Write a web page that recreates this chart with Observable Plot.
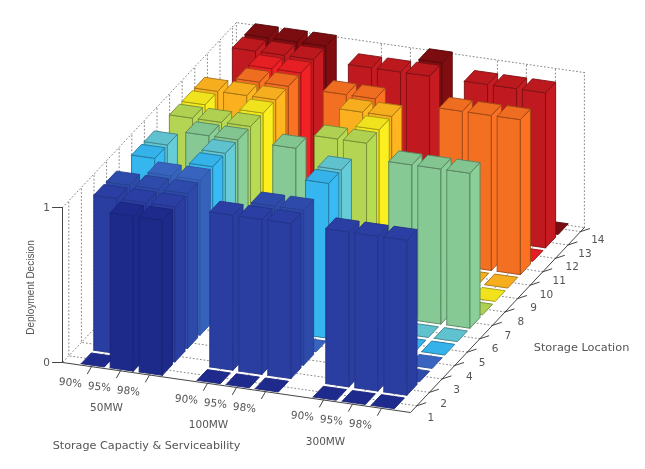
<!DOCTYPE html>
<html>
<head>
<meta charset="utf-8">
<script src="https://cdn.jsdelivr.net/npm/d3@7"></script>
<script src="https://cdn.jsdelivr.net/npm/@observablehq/plot@0.6"></script>
<style>
html,body{margin:0;padding:0;background:#fff;}
svg{display:block;filter:blur(0.5px);}
</style>
</head>
<body>
<div id="chart"></div>
<script>
const serviceability = ["90%","95%","98%","90%","95%","98%","90%","95%","98%"];
const columnPositions = [1,2,3,5,6,7,9,10,11];
const capacities = ["50MW","100MW","300MW"];
const capacityColumns = [2,6,10];
const locations = [1,2,3,4,5,6,7,8,9,10,11,12,13,14];
const locationColors = ["#1e2a8a","#2a3da0","#2d4aa8","#3762bc","#36b6ee","#62c6d2","#86c994","#b3d553","#f5e81f","#fbb11f","#f36f21","#ea2024","#c01a20","#7e0c10"];
const location1  = [0,1,1, 0,0,0, 0,0,0];
const location2  = [1,1,1, 1,1,1, 1,1,1];
const location3  = [1,1,1, 0,1,1, 0,0,0];
const location4  = [0,1,1, 0,0,0, 0,0,0];
const location5  = [1,0,1, 0,0,1, 0,0,0];
const location6  = [1,0,1, 0,0,1, 0,0,0];
const location7  = [0,1,1, 1,0,0, 1,1,1];
const location8  = [1,1,1, 0,1,1, 0,0,0];
const location9  = [1,0,1, 0,0,1, 0,0,0];
const location10 = [1,1,1, 0,1,1, 0,0,0];
const location11 = [0,1,1, 1,1,0, 1,1,1];
const location12 = [0,1,1, 0,0,0, 0,0,0];
const location13 = [1,1,1, 1,1,1, 1,1,1];
const location14 = [1,1,1, 0,0,1, 0,0,0];
const decisions = [location1,location2,location3,location4,location5,location6,location7,location8,location9,location10,location11,location12,location13,location14];

// Oblique 3-D projection (configuration axis, location axis, decision axis) to the page
const cx = d3.scaleLinear([0,12],[0,348]);
const yUnitX = 12.6, yUnitY = 13.4, zUnit = 155, ox = 62, oy = 362;
const xMax = 12, yMin = 0.5, yMax = 14.3, half = 0.4;
const px = (a,b) => ox + cx(a) + yUnitX*(b-yMin);
const py = (a,b,c) => oy + a*50/12 - yUnitY*(b-yMin) - zUnit*c;

// Painter-ordered faces, back row first
const faces = [];
let id = 0;
function face(points, fill, edge){
  const k = id++;
  for (const [a,b,c] of [...points, points[0]]) faces.push({k, X:px(a,b), Y:py(a,b,c), fill, edge});
}
for (let l = locations.length-1; l >= 0; --l) {
  const blue = l < 4;
  const edge = d3.color(locationColors[l]).darker(blue ? 0.45 : 1.2).formatHex();
  const sideCol = blue ? locationColors[l] : d3.color(locationColors[l]).brighter(0.08).formatHex();
  const topCol = d3.color(locationColors[l]).darker(blue ? -0.05 : 0.06).formatHex();
  columnPositions.forEach((x,i) => {
    const y = locations[l], v = decisions[l][i];
    const x0=x-half, x1=x+half, y0=y-half, y1=y+half;
    if (v > 0) {
      face([[x0,y0,0],[x1,y0,0],[x1,y0,v],[x0,y0,v]], locationColors[l], edge);
      face([[x1,y0,0],[x1,y1,0],[x1,y1,v],[x1,y0,v]], sideCol, edge);
    }
    face([[x0,y0,v],[x1,y0,v],[x1,y1,v],[x0,y1,v]], topCol, edge);
  });
}

// Dotted grid on floor and walls
const grid = [];
let g = 0;
function seg(pts){ const k=g++; for (const [a,b,c] of pts) grid.push({k,X:px(a,b),Y:py(a,b,c)}); }
for (const x of columnPositions) {
  seg([[x,yMin,0],[x,yMax,0],[x,yMax,1]]);
}
for (const y of locations) {
  seg([[xMax,y,0],[0,y,0],[0,y,1]]);
}
seg([[0,yMin,0],[0,yMin,1],[0,yMax,1],[xMax,yMax,1]]);
seg([[0,yMax,0],[0,yMax,1]]);
seg([[0,yMax,0],[xMax,yMax,0]]);
seg([[xMax,yMax,0],[xMax,yMax,1]]);
seg([[0,yMax,0],[0,yMin,0]]);

// Solid axes
const axes = [];
let a = 0;
function ax(pts){ const k=a++; for (const p of pts) axes.push({k,X:p[0],Y:p[1]}); }
ax([[px(0,yMin),py(0,yMin,1)],[px(0,yMin),py(0,yMin,0)],[px(xMax,yMin),py(xMax,yMin,0)],[px(xMax,yMax),py(xMax,yMax,0)]]);
for (const z of [0,1]) ax([[px(0,yMin),py(0,yMin,z)],[px(0,yMin)-10,py(0,yMin,z)]]);
for (const x of columnPositions) ax([[px(x,yMin),py(x,yMin,0)],[px(x,yMin)-4,py(x,yMin,0)+7]]);
for (const y of locations) ax([[px(xMax,y),py(xMax,y,0)],[px(xMax,y)+9,py(xMax,y,0)-3]]);

const xTickLabels = serviceability.map((t,i)=>({t,X:px(columnPositions[i],yMin)-21,Y:py(columnPositions[i],yMin,0)+16}));
const groupShift = [-14,-28,-27];
const groupLabels = capacities.map((t,i)=>({t,X:px(capacityColumns[i],yMin)+groupShift[i],Y:py(capacityColumns[i],yMin,0)+37}));
const yTickLabels = locations.map(y=>({t:String(y),X:px(xMax,y)+14+0.25*(y-1),Y:py(xMax,y,0)+11.7-0.29*(y-1)}));
const zTickLabels = [0,1].map(z=>({t:String(z),X:px(0,yMin)-16,Y:py(0,yMin,z)}));

const titles = [
  {t:"Deployment Decision",X:30,Y:287,r:-90,f:"Liberation Sans",s:10},
  {t:"Storage Capactiy & Serviceability",X:146,Y:445,r:0,f:"DejaVu Sans",s:11.2},
  {t:"Storage Location",X:581,Y:347,r:0,f:"DejaVu Sans",s:11.3}
];

const font = "DejaVu Sans, sans-serif";
const txt = "#555";
const label = (rows, opts={}) => Plot.text(rows,{x:"X",y:"Y",text:"t",fontSize:10.5,fontFamily:font,fill:txt,...opts});
const plot = Plot.plot({
  width:645, height:469, margin:0,
  x:{type:"identity",axis:null}, y:{type:"identity",axis:null},
  marks:[
    Plot.line(grid,{x:"X",y:"Y",z:"k",stroke:"#888",strokeWidth:1,strokeDasharray:"1 2.6",curve:"linear"}),
    Plot.line(faces,{x:"X",y:"Y",z:"k",fill:"fill",stroke:"edge",strokeWidth:0.9,strokeLinejoin:"round",curve:"linear"}),
    Plot.line(axes,{x:"X",y:"Y",z:"k",stroke:"#444",strokeWidth:1,curve:"linear"}),
    label(xTickLabels,{rotate:6}),
    label(groupLabels),
    label(yTickLabels),
    label(zTickLabels),
    ...titles.map(d=>label([d],{rotate:d.r,fontFamily:d.f,fontSize:d.s}))
  ]
});
document.getElementById("chart").append(plot);
</script>
</body>
</html>
